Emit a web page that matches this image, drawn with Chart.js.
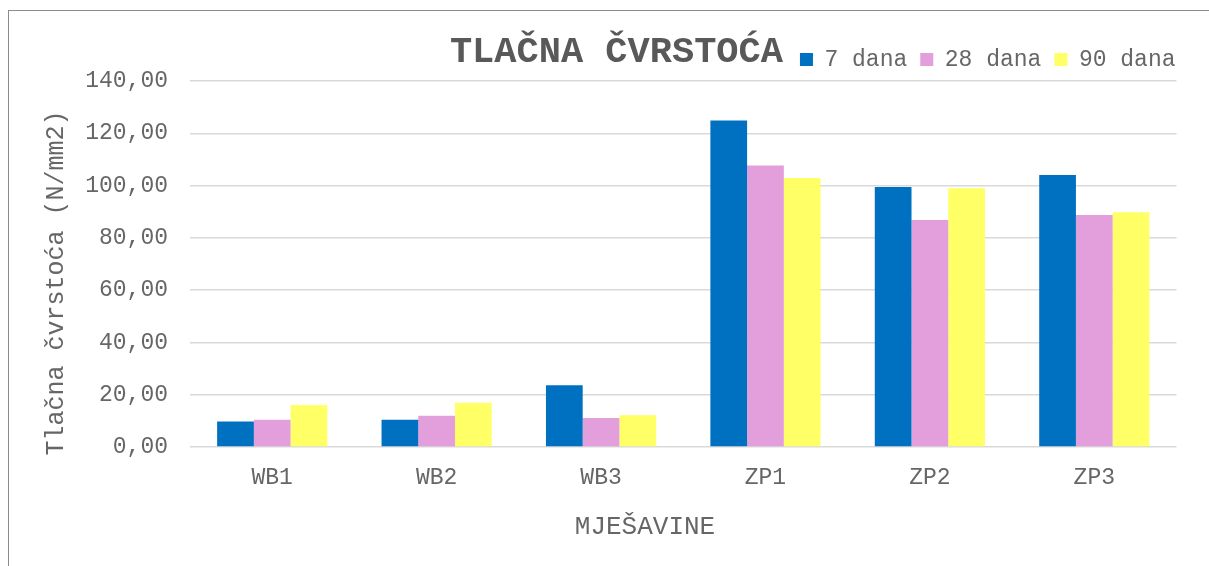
<!DOCTYPE html>
<html>
<head>
<meta charset="utf-8">
<title>Tlačna čvrstoća</title>
<script src="https://cdn.jsdelivr.net/npm/chart.js@4/dist/chart.umd.min.js"></script>
<style>
    html, body { margin: 0; padding: 0; background: #fff; }
    #wrap { position: relative; width: 1209px; height: 566px; }
    #frame {
        position: absolute; left: 8px; top: 10px; right: 0; bottom: 0;
        border-left: 1.5px solid #8c8c8c; border-top: 1.5px solid #8c8c8c;
        pointer-events: none;
    }
</style>
</head>
<body>
<div id="wrap">
    <canvas id="strength-chart"></canvas>
    <div id="frame"></div>
</div>
<script>
const mixes = ['WB1', 'WB2', 'WB3', 'ZP1', 'ZP2', 'ZP3'];
const seriesNames = ['7 dana', '28 dana', '90 dana'];
const strength7 = [9.8, 10.4, 23.6, 124.9, 99.5, 104.0];
const strength28 = [10.4, 12.0, 11.1, 107.7, 86.8, 88.7];
const strength90 = [16.1, 16.9, 12.1, 102.9, 99.0, 89.8];
const yTicks = [0, 20, 40, 60, 80, 100, 120, 140];

const chartTitle = 'TLAČNA ČVRSTOĆA';
const yTitle = 'Tlačna čvrstoća (N/mm2)';
const xTitle = 'MJEŠAVINE';

const FONT = '"Liberation Mono", "Courier New", monospace';
const TEXT = '#666666';
const TITLE_TEXT = '#595959';

Chart.defaults.font.family = FONT;
Chart.defaults.color = TEXT;

// Main title sits on the legend row, axis titles are placed by hand
const titlesPlugin = {
    id: 'titles',
    afterLayout(chart) {
        chart.legend.left += 12;
        chart.legend.right += 12;
    },
    afterDraw(chart) {
        const { ctx } = chart;
        const first = chart.legend.legendHitBoxes[0];
        ctx.save();
        ctx.textBaseline = 'middle';

        ctx.fillStyle = TITLE_TEXT;
        ctx.font = `bold 37px ${FONT}`;
        ctx.textAlign = 'right';
        ctx.fillText(chartTitle, first.left - 17, first.top + first.height / 2 - 7);

        ctx.fillStyle = TEXT;
        ctx.font = `26px ${FONT}`;
        ctx.textAlign = 'center';
        ctx.fillText(xTitle, 645, 527);

        ctx.font = `25px ${FONT}`;
        ctx.translate(56, 283);
        ctx.rotate(-Math.PI / 2);
        ctx.fillText(yTitle, 0, 0);
        ctx.restore();
    }
};

const ctx = document.getElementById('strength-chart');
new Chart(ctx, {
    type: 'bar',
    data: {
        labels: mixes,
        datasets: [
            { label: seriesNames[0], data: strength7, backgroundColor: '#0070C0' },
            { label: seriesNames[1], data: strength28, backgroundColor: '#E39FDC' },
            { label: seriesNames[2], data: strength90, backgroundColor: '#FFFF66' }
        ]
    },
    options: {
        responsive: true,
        maintainAspectRatio: false,
        animation: false,
        categoryPercentage: 0.67,
        barPercentage: 1,
        layout: { padding: { top: 35, right: 32.5, left: 0, bottom: 0 } },
        plugins: {
            title: { display: false },
            tooltip: { enabled: false },
            legend: {
                position: 'top',
                align: 'end',
                labels: {
                    boxWidth: 13,
                    boxHeight: 13,
                    padding: 13,
                    color: TEXT,
                    font: { size: 23 }
                }
            }
        },
        scales: {
            x: {
                grid: { display: false },
                border: { display: false },
                ticks: { padding: 9, font: { size: 23 }, color: TEXT },
                afterFit(scale) { scale.height = 119; }
            },
            y: {
                min: 0,
                max: 140,
                afterBuildTicks(scale) { scale.ticks = yTicks.map(v => ({ value: v })); },
                ticks: {
                    padding: 22,
                    font: { size: 23 },
                    color: TEXT,
                    callback: v => v.toFixed(2).replace('.', ',')
                },
                grid: { color: '#d9d9d9', lineWidth: 1.5, drawTicks: false },
                border: { display: false },
                afterFit(scale) { scale.width = 190; }
            }
        }
    },
    plugins: [titlesPlugin]
});
</script>
</body>
</html>
